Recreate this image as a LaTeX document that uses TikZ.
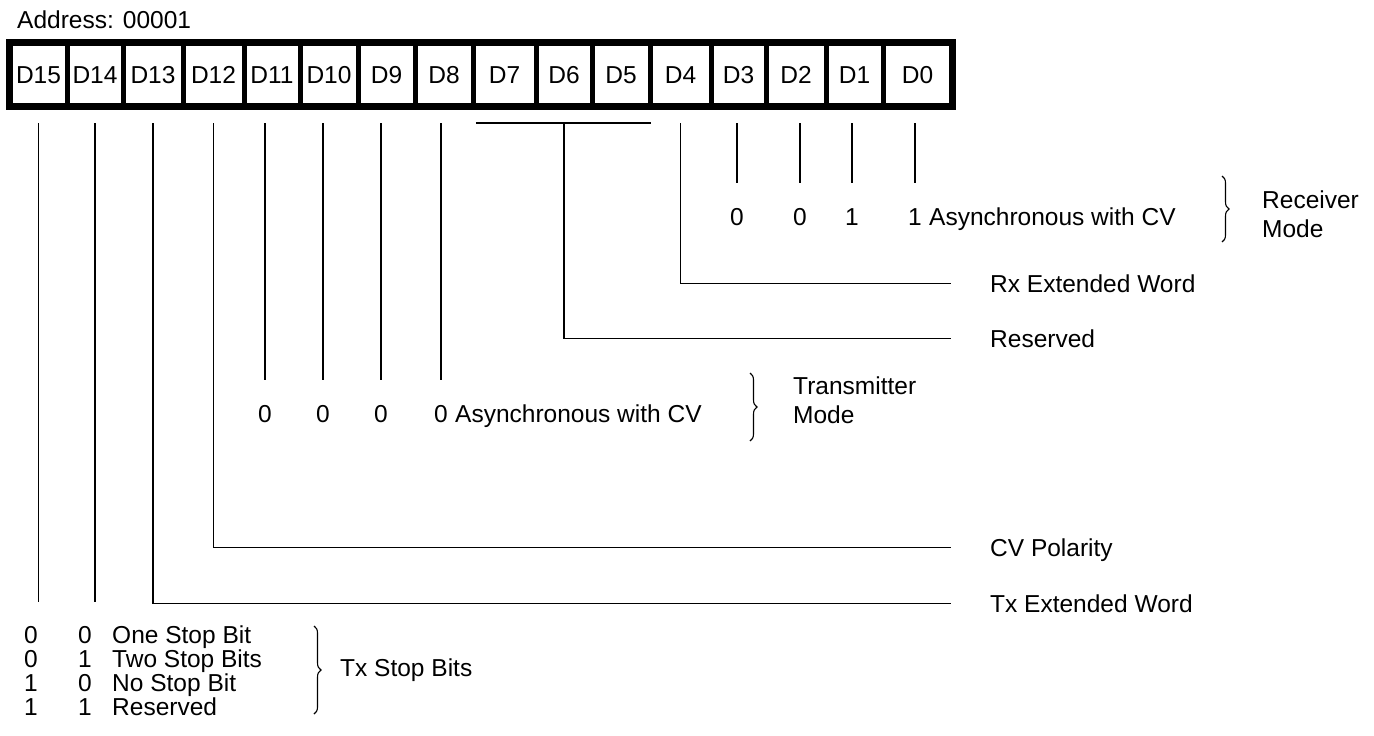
\documentclass[tikz,border=0pt]{standalone}
\usepackage{fontspec}
\setmainfont{Liberation Sans}
\usetikzlibrary{positioning,decorations.pathreplacing}

\begin{document}
\begin{tikzpicture}[x=1pt, y=-1pt,
  font=\fontsize{24.5}{28.5}\selectfont,
  cell/.style={minimum height=63pt, inner sep=0pt, text height=17.5pt, text depth=0pt},
  val/.style={inner sep=0pt, anchor=base},
  txt/.style={inner sep=0pt, anchor=base west},
  group/.style={inner sep=0pt, anchor=west, align=left},
  wire/.style={line width=1.8pt},
  brc/.style={decorate, decoration={brace, amplitude=7pt}, line width=1.1pt},
]
\useasboundingbox (0,0) rectangle (1374,736);

\node[txt] (addr) at (17,28) {Address: 00001};

\foreach \nm/\lft/\rgt in {15/10/67, 14/67/123, 13/123/183, 12/183/244, 11/244/300,
    10/300/358, 9/358/415, 8/415/473, 7/473/536, 6/536/592, 5/592/650, 4/650/711,
    3/711/766, 2/766/826, 1/826/883, 0/883/952}{
  \pgfmathsetmacro\cellw{\rgt-\lft}
  \node[cell, minimum width=\cellw pt] (d\nm) at ({(\lft+\rgt)/2},74.5) {D\nm};
}
\foreach \nm in {15,...,1}
  \draw[line width=5pt] (d\nm.north east) -- (d\nm.south east);
\draw[line width=7pt] (d15.north west) rectangle (d0.south east);

\node[txt] (rxext) at (990,292) {Rx Extended Word};
\node[txt] (resv)  at (990,347) {Reserved};
\node[txt] (cvpol) at (990,556) {CV Polarity};
\node[txt] (txext) at (990,612) {Tx Extended Word};

\foreach \nm/\xx/\vv in {3/737/0, 2/800/0, 1/852/1, 0/915/1}{
  \node[val] (r\nm) at (\xx,225) {\vv};
  \draw[wire] ([yshift=-17pt]d\nm.south -| r\nm) -- ([yshift=25pt]r\nm.north);
}
\node[txt, base right=7pt of r0] (rxasync) {Asynchronous with CV};
\coordinate (rxtop) at (1222,176);
\coordinate (rxbot) at (1222,242);
\draw[brc] (rxtop) -- (rxbot);
\node[group] (rxmode) at (1262,214) {Receiver\\Mode};

\draw[wire] ([yshift=-17pt]d4.south) |- ([xshift=-39pt,yshift=8.5pt]rxext.base west);
\draw[wire] ([xshift=3pt,yshift=-17pt]d7.south west) -- ([xshift=1pt,yshift=-17pt]d5.south east);
\draw[wire] ([yshift=-17pt]d6.south) |- ([xshift=-39pt,yshift=8.5pt]resv.base west);

\foreach \nm/\xx in {11/265, 10/323, 9/381, 8/441}{
  \node[val] (t\nm) at (\xx,422) {0};
  \draw[wire] ([yshift=-17pt]d\nm.south -| t\nm) -- ([yshift=25pt]t\nm.north);
}
\node[txt, base right=7pt of t8] (txasync) {Asynchronous with CV};
\coordinate (txtop) at (750,373);
\coordinate (txbot) at (750,441);
\draw[brc] (txtop) -- (txbot);
\node[group] (txmode) at (793,400) {Transmitter\\Mode};

\draw[wire] ([yshift=-17pt]d12.south) |- ([xshift=-39pt,yshift=8.5pt]cvpol.base west);
\draw[wire] ([yshift=-17pt]d13.south) |- ([xshift=-39pt,yshift=8.5pt]txext.base west);

\foreach \aa/\bb/\lbl [count=\i] in {0/0/One Stop Bit, 0/1/Two Stop Bits,
    1/0/No Stop Bit, 1/1/Reserved}{
  \node[val] (sa\i) at (31,{619+24*\i}) {\aa};
  \node[val] (sb\i) at (85,{619+24*\i}) {\bb};
  \node[txt, base right=20pt of sb\i] (st\i) {\lbl};
}
\draw[wire] ([yshift=-17pt]d15.south) -- ([yshift=24pt]d15.south |- sa1.north);
\draw[wire] ([yshift=-17pt]d14.south) -- ([yshift=24pt]d14.south |- sb1.north);
\coordinate (sttop) at (314,626);
\coordinate (stbot) at (314,714);
\draw[brc] (sttop) -- (stbot);
\node[txt] (txstop) at (340,676) {Tx Stop Bits};
\end{tikzpicture}
\end{document}
